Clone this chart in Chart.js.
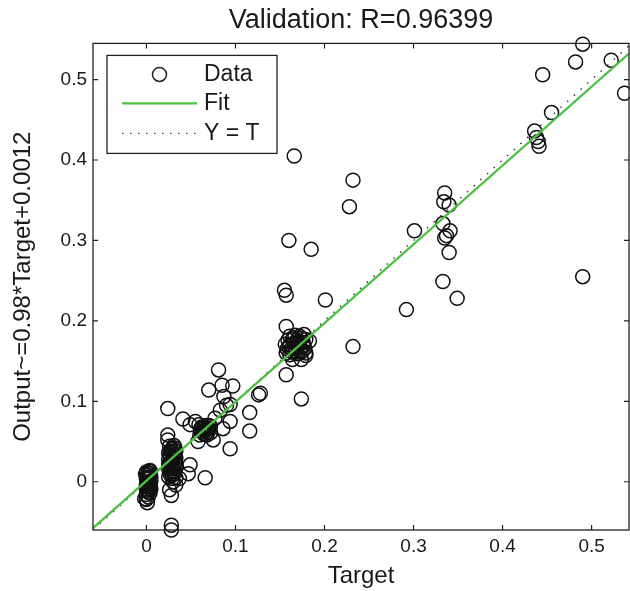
<!DOCTYPE html>
<html>
<head>
<meta charset="utf-8">
<script src="https://cdn.jsdelivr.net/npm/chart.js@4"></script>
<style>
  html, body { margin: 0; padding: 0; background: #fff; }
  #wrap { width: 630px; height: 591px; }
</style>
</head>
<body>
<div id="wrap"><canvas id="chart" width="630" height="591"></canvas></div>
<script>
// Regression plot (validation set)

const xTicks = [0, 0.1, 0.2, 0.3, 0.4, 0.5];
const yTicks = [0, 0.1, 0.2, 0.3, 0.4, 0.5];
const xMin = -0.06, xMax = 0.542;
const yMin = -0.06, yMax = 0.545;

// Data: target / output pairs
const targets = [
    // cluster near 0
    0.000, 0.004, 0.001, 0.005, 0.000, 0.003, 0.001, 0.005, 0.000, 0.003, 0.001,
    0.004, 0.000, 0.003, 0.002, 0.002, 0.004, -0.001, 0.001, 0.000, -0.002,
    0.002, 0.004, 0.000, 0.002, 0.005, 0.001, 0.003, 0.002, 0.004, 0.000,
    // cluster near 0.03
    0.025, 0.029, 0.033, 0.026, 0.031, 0.025, 0.033, 0.028, 0.025, 0.032, 0.029,
    0.025, 0.033, 0.027, 0.031, 0.025, 0.033, 0.028, 0.026, 0.031, 0.029, 0.028,
    0.030, 0.027,
    0.027, 0.031, 0.029, 0.033, 0.026, 0.030, 0.032, 0.027, 0.030, 0.026, 0.032,
    0.029,
    0.024, 0.024, 0.024, 0.041, 0.049, 0.049, 0.047, 0.037, 0.030, 0.026, 0.028,
    0.033, 0.028, 0.028,
    // cluster near 0.066
    0.060, 0.064, 0.068, 0.072, 0.061, 0.066, 0.070, 0.062, 0.067, 0.072, 0.059,
    0.064, 0.069, 0.063, 0.066, 0.070, 0.061, 0.068, 0.065,
    0.055, 0.077, 0.058, 0.075, 0.066, 0.083, 0.094, 0.086, 0.094, 0.094,
    // middle
    0.081, 0.070, 0.085, 0.097, 0.087, 0.090, 0.126, 0.128, 0.116, 0.116,
    // cluster near 0.17
    0.157, 0.161, 0.165, 0.170, 0.175, 0.179, 0.158, 0.163, 0.168, 0.173, 0.178,
    0.156, 0.161, 0.166, 0.171, 0.176, 0.159, 0.164, 0.169, 0.174, 0.179, 0.161,
    0.167, 0.172, 0.177, 0.163, 0.168, 0.173, 0.160, 0.170, 0.176, 0.165, 0.172,
    0.157, 0.183, 0.179, 0.164, 0.174, 0.157, 0.174, 0.232, 0.201, 0.157, 0.155,
    0.185, 0.160, 0.166, 0.232, 0.228,
    // upper part
    0.292, 0.301, 0.335, 0.334, 0.340, 0.333, 0.341, 0.335, 0.337, 0.340, 0.333,
    0.349, 0.436, 0.438, 0.440, 0.441, 0.455, 0.445, 0.482, 0.490, 0.522, 0.537,
    0.490
];
const outputs = [
    -0.016, -0.014, -0.011, -0.009, -0.006, -0.004, -0.001, 0.001, 0.003, 0.005, 0.008,
    0.010, 0.012, 0.013, -0.019, 0.006, -0.002, 0.009, -0.026, -0.022, -0.021,
    -0.013, -0.006, -0.009, 0.000, 0.006, 0.004, -0.008, 0.011, 0.014, -0.003,
    0.006, 0.008, 0.005, 0.011, 0.013, 0.016, 0.017, 0.019, 0.022, 0.023, 0.026,
    0.028, 0.029, 0.032, 0.034, 0.036, 0.038, 0.040, 0.044, 0.045, 0.036, 0.013,
    0.030, 0.024,
    0.009, 0.010, 0.016, 0.021, 0.019, 0.020, 0.032, 0.038, 0.041, 0.033, 0.042,
    0.004,
    0.052, 0.058, 0.091, 0.078, 0.071, 0.021, 0.010, 0.004, 0.000, -0.010, -0.017,
    -0.004, -0.054, -0.060,
    0.058, 0.060, 0.058, 0.061, 0.063, 0.064, 0.066, 0.068, 0.070, 0.069, 0.071,
    0.066, 0.062, 0.062, 0.059, 0.070, 0.066, 0.066, 0.068,
    0.075, 0.079, 0.050, 0.052, 0.005, 0.089, 0.096, 0.066, 0.075, 0.041,
    0.139, 0.114, 0.120, 0.119, 0.106, 0.095, 0.108, 0.110, 0.086, 0.063,
    0.160, 0.158, 0.161, 0.159, 0.162, 0.160, 0.165, 0.166, 0.165, 0.167, 0.166,
    0.171, 0.170, 0.172, 0.171, 0.173, 0.176, 0.177, 0.176, 0.178, 0.177, 0.181,
    0.182, 0.181, 0.183, 0.162, 0.161, 0.163, 0.168, 0.168, 0.169, 0.179, 0.174,
    0.193, 0.175, 0.157, 0.152, 0.152, 0.133, 0.103, 0.168, 0.226, 0.232, 0.238,
    0.289, 0.300, 0.405, 0.375, 0.342,
    0.214, 0.312, 0.359, 0.348, 0.344, 0.321, 0.312, 0.303, 0.306, 0.285, 0.249,
    0.228, 0.436, 0.428, 0.423, 0.417, 0.459, 0.506, 0.522, 0.544, 0.524, 0.483,
    0.255
];

// Fit: Output ~= 0.98*Target + 0.0012, and the Y = T line
const fitX = [-0.06, 0.542];
const fitY = [-0.0576, 0.5324];
const idX = [-0.06, 0.542];
const idY = [-0.06, 0.542];

const fitColor = '#4cc043';
const textColor = '#1a1a1a';
const fontFamily = '"Liberation Sans", Arial, sans-serif';

Chart.defaults.font.family = fontFamily;
Chart.defaults.color = textColor;

function pairs(xs, ys) {
    return xs.map((v, i) => ({ x: v, y: ys[i] }));
}

// Box, inward ticks and legend, matlab style
const matlabFrame = {
    id: 'matlabFrame',
    afterDraw(chart) {
        const { ctx, chartArea: a, scales: { x, y } } = chart;
        ctx.save();
        ctx.strokeStyle = '#222';
        ctx.lineWidth = 1.3;
        ctx.strokeRect(a.left, a.top, a.right - a.left, a.bottom - a.top);

        ctx.beginPath();
        ctx.lineWidth = 1.2;
        xTicks.forEach(v => {
            const px = x.getPixelForValue(v);
            ctx.moveTo(px, a.bottom); ctx.lineTo(px, a.bottom - 5);
            ctx.moveTo(px, a.top); ctx.lineTo(px, a.top + 5);
        });
        yTicks.forEach(v => {
            const py = y.getPixelForValue(v);
            ctx.moveTo(a.left, py); ctx.lineTo(a.left + 5, py);
            ctx.moveTo(a.right, py); ctx.lineTo(a.right - 5, py);
        });
        ctx.stroke();

        // legend
        const lx = a.left + 14, ly = a.top + 12, lw = 170, lh = 98;
        ctx.fillStyle = '#fff';
        ctx.fillRect(lx, ly, lw, lh);
        ctx.strokeStyle = '#222';
        ctx.lineWidth = 1.3;
        ctx.strokeRect(lx, ly, lw, lh);

        const rows = [ly + 19, ly + 48, ly + 78];
        const x0 = lx + 15, x1 = lx + 90, tx = lx + 97;

        ctx.lineWidth = 1.5;
        ctx.beginPath();
        ctx.arc((x0 + x1) / 2, rows[0], 7, 0, Math.PI * 2);
        ctx.stroke();

        ctx.strokeStyle = fitColor;
        ctx.lineWidth = 2.4;
        ctx.beginPath();
        ctx.moveTo(x0, rows[1]); ctx.lineTo(x1, rows[1]);
        ctx.stroke();

        ctx.strokeStyle = '#444';
        ctx.lineWidth = 1.3;
        ctx.setLineDash([1.5, 6.5]);
        ctx.beginPath();
        ctx.moveTo(x0, rows[2]); ctx.lineTo(x1, rows[2]);
        ctx.stroke();
        ctx.setLineDash([]);

        ctx.fillStyle = textColor;
        ctx.font = '23px ' + fontFamily;
        ctx.textBaseline = 'middle';
        ctx.textAlign = 'left';
        ctx.fillText('Data', tx, rows[0]);
        ctx.fillText('Fit', tx, rows[1]);
        ctx.fillText('Y = T', tx, rows[2]);
        ctx.restore();
    }
};

new Chart(document.getElementById('chart'), {
    type: 'scatter',
    data: {
        datasets: [
            {
                label: 'Fit',
                data: pairs(fitX, fitY),
                showLine: true,
                borderColor: fitColor,
                borderWidth: 2.2,
                pointRadius: 0
            },
            {
                label: 'Y = T',
                data: pairs(idX, idY),
                showLine: true,
                borderColor: '#333',
                borderWidth: 1.4,
                borderDash: [1.5, 7.5],
                pointRadius: 0
            },
            {
                label: 'Data',
                data: pairs(targets, outputs),
                pointStyle: 'circle',
                pointRadius: 7,
                borderColor: '#111',
                borderWidth: 1.5,
                backgroundColor: 'rgba(0,0,0,0)',
                clip: false
            }
        ]
    },
    options: {
        responsive: false,
        devicePixelRatio: 1,
        animation: false,
        layout: { autoPadding: false, padding: { top: 0, right: 1, bottom: 0, left: 0 } },
        plugins: {
            legend: { display: false },
            tooltip: { enabled: false },
            title: {
                display: true,
                text: 'Validation: R=0.96399',
                fullSize: false,
                font: { size: 27, weight: 'normal' },
                color: textColor,
                padding: { top: 4, bottom: 7 }
            }
        },
        scales: {
            x: {
                type: 'linear',
                min: xMin,
                max: xMax,
                afterBuildTicks: scale => { scale.ticks = xTicks.map(v => ({ value: v })); },
                afterFit: scale => { scale.height = 61; },
                ticks: {
                    font: { size: 19 },
                    padding: 5,
                    maxRotation: 0,
                    callback: v => String(v)
                },
                grid: { display: false, drawTicks: false },
                border: { display: false },
                title: {
                    display: true,
                    text: 'Target',
                    font: { size: 24 },
                    padding: { top: 0, bottom: 0 }
                }
            },
            y: {
                type: 'linear',
                min: yMin,
                max: yMax,
                afterBuildTicks: scale => { scale.ticks = yTicks.map(v => ({ value: v })); },
                afterFit: scale => { scale.width = 93; },
                ticks: {
                    font: { size: 19 },
                    padding: 6,
                    callback: v => String(v)
                },
                grid: { display: false, drawTicks: false },
                border: { display: false },
                title: {
                    display: true,
                    text: 'Output~=0.98*Target+0.0012',
                    font: { size: 24 },
                    padding: { top: 9, bottom: 0 }
                }
            }
        }
    },
    plugins: [matlabFrame]
});
</script>
</body>
</html>
